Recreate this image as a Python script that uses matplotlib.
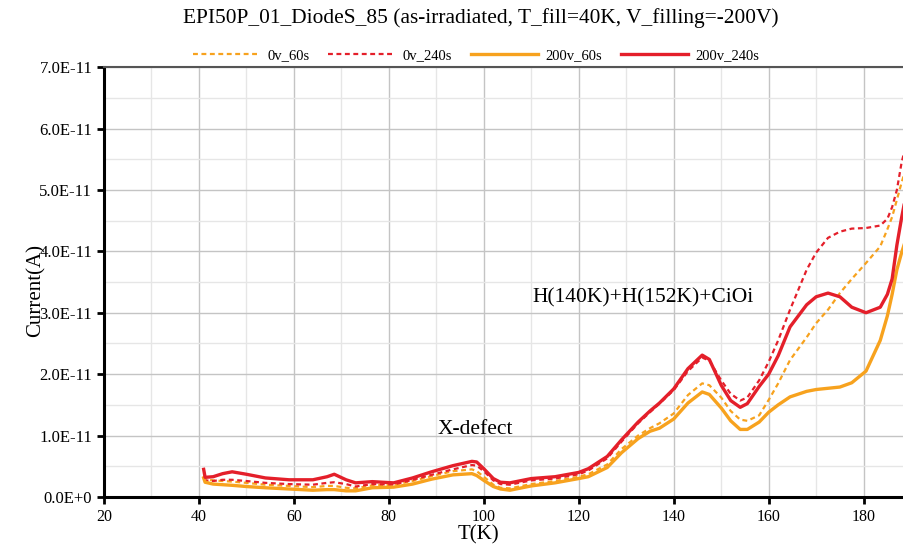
import numpy as np
import matplotlib.pyplot as plt
from matplotlib.ticker import MultipleLocator, FuncFormatter

# temperature grid (K) and currents (units of 1e-11 A)
temp = [41, 41.3, 43, 45, 47, 50, 54, 59, 64, 67, 68.5, 71, 73, 76.5, 81, 85, 89,
        93.5, 97.5, 98.5, 100, 102, 103.5, 105.5, 110, 115, 120, 122, 126, 129,
        132.5, 135, 137, 140, 143, 146, 147.5, 150, 152, 154, 155.5, 158, 160, 162,
        164.5, 168, 170, 172.5, 175, 177.5, 180.5, 183.5, 185, 186, 187, 188, 188.5]

i_0v_60s = [0.34, 0.29, 0.27, 0.26, 0.25, 0.23, 0.20, 0.18, 0.16, 0.18, 0.18, 0.15,
            0.14, 0.19, 0.20, 0.26, 0.34, 0.42, 0.45, 0.42, 0.33, 0.20, 0.15, 0.14,
            0.21, 0.26, 0.33, 0.37, 0.53, 0.78, 1.00, 1.12, 1.20, 1.36, 1.66, 1.85,
            1.82, 1.62, 1.40, 1.26, 1.24, 1.33, 1.58, 1.85, 2.23, 2.60, 2.83, 3.05,
            3.32, 3.55, 3.81, 4.08, 4.36, 4.56, 4.84, 5.12, 5.25]

i_0v_240s = [0.28, 0.27, 0.26, 0.28, 0.28, 0.26, 0.23, 0.21, 0.20, 0.23, 0.24, 0.21,
             0.17, 0.21, 0.20, 0.28, 0.36, 0.45, 0.52, 0.51, 0.42, 0.27, 0.21, 0.20,
             0.27, 0.30, 0.37, 0.43, 0.63, 0.90, 1.20, 1.38, 1.52, 1.74, 2.05, 2.27,
             2.22, 1.90, 1.68, 1.57, 1.62, 1.90, 2.20, 2.55, 3.05, 3.70, 3.98, 4.22,
             4.32, 4.37, 4.38, 4.42, 4.53, 4.72, 5.00, 5.45, 5.60]

i_200v_60s = [0.31, 0.24, 0.21, 0.20, 0.19, 0.17, 0.15, 0.13, 0.11, 0.12, 0.12, 0.10,
              0.10, 0.15, 0.16, 0.21, 0.29, 0.36, 0.38, 0.35, 0.27, 0.17, 0.13, 0.11,
              0.18, 0.23, 0.30, 0.33, 0.48, 0.72, 0.95, 1.07, 1.12, 1.27, 1.53, 1.71,
              1.67, 1.45, 1.24, 1.10, 1.10, 1.22, 1.38, 1.50, 1.63, 1.72, 1.75, 1.77,
              1.79, 1.86, 2.05, 2.55, 2.95, 3.30, 3.70, 3.98, 4.10]

i_200v_240s = [0.45, 0.32, 0.33, 0.38, 0.41, 0.37, 0.31, 0.28, 0.28, 0.33, 0.37, 0.28,
               0.23, 0.25, 0.23, 0.31, 0.41, 0.51, 0.58, 0.57, 0.46, 0.30, 0.24, 0.23,
               0.30, 0.33, 0.40, 0.46, 0.66, 0.93, 1.22, 1.40, 1.53, 1.76, 2.09, 2.31,
               2.24, 1.82, 1.57, 1.46, 1.52, 1.80, 2.00, 2.30, 2.77, 3.13, 3.26, 3.32,
               3.26, 3.09, 3.00, 3.09, 3.30, 3.55, 4.10, 4.55, 4.75]

orange = '#f7a21e'
red = '#e41f2a'


def fmt_current(v, pos):
    if abs(v) < 1e-15:
        return '0.0E+0'
    return '%.1fE-11' % (v / 1e-11)


plt.rcParams['font.family'] = ['Liberation Serif', 'DejaVu Serif']
fig = plt.figure(figsize=(9.04, 5.5), dpi=100)
ax = fig.add_axes([0.115, 0.0964, 0.885, 0.7816])

T = np.array(temp)
ax.plot(T, np.array(i_0v_60s) * 1e-11, color=orange, lw=1.6, ls=(0, (2.2, 1.6)), label='0v_60s')
ax.plot(T, np.array(i_0v_240s) * 1e-11, color=red, lw=1.6, ls=(0, (2.2, 1.6)), label='0v_240s')
ax.plot(T, np.array(i_200v_60s) * 1e-11, color=orange, lw=2.4, label='200v_60s')
ax.plot(T, np.array(i_200v_240s) * 1e-11, color=red, lw=2.4, label='200v_240s')

# axes limits and ticks
ax.set_xlim(20, 188.5)
ax.set_ylim(0, 7e-11)
ax.xaxis.set_major_locator(MultipleLocator(20))
ax.xaxis.set_minor_locator(MultipleLocator(10))
ax.yaxis.set_major_locator(MultipleLocator(1e-11))
ax.yaxis.set_minor_locator(MultipleLocator(0.5e-11))
ax.yaxis.set_major_formatter(FuncFormatter(fmt_current))
ax.tick_params(which='major', direction='out', length=5, width=2, color='black')
ax.tick_params(axis='x', which='major', labelsize=11.5)
ax.tick_params(axis='y', which='major', labelsize=12)
ax.tick_params(which='minor', length=0)
ax.grid(which='major', color='#c4c4c4', lw=1.0)
ax.grid(which='minor', color='#e6e6e6', lw=1.0)
ax.set_axisbelow(True)

# spines
ax.spines['left'].set_linewidth(2.2)
ax.spines['bottom'].set_linewidth(2.2)
ax.spines['top'].set_color('#555555')
ax.spines['top'].set_linewidth(1.5)
ax.spines['right'].set_visible(False)

# labels
ax.set_ylabel('Current(A)', fontsize=15)
ax.yaxis.set_label_coords(-0.073, 0.48)
ax.set_xlabel('T(K)', fontsize=15)
ax.xaxis.set_label_coords(0.4675, -0.065)
fig.text(0.532, 0.968, 'EPI50P_01_DiodeS_85 (as-irradiated, T_fill=40K, V_filling=-200V)',
         ha='center', va='center', fontsize=15.4)

# annotations
ax.text(98.3, 1.1e-11, 'X-defect', ha='center', va='center', fontsize=15.5)
ax.text(133.5, 3.24e-11, 'H(140K)+H(152K)+CiOi', ha='center', va='center', fontsize=15.5)

ax.legend(loc='center', bbox_to_anchor=(0.465, 1.028), ncol=4, frameon=False,
          fontsize=10.5, handlelength=4.6, columnspacing=1.3, handletextpad=0.5,
          borderpad=0)

fig.savefig('out.png', dpi=100)
